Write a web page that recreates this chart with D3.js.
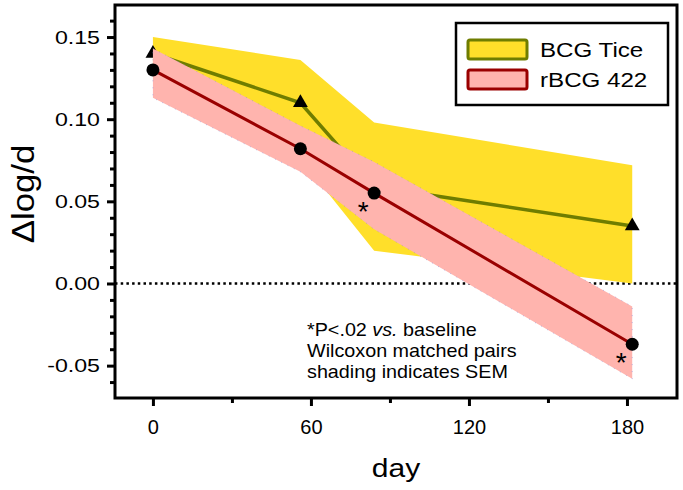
<!DOCTYPE html>
<html>
<head>
<meta charset="utf-8">
<script src="https://cdn.jsdelivr.net/npm/d3@7"></script>
<style>
  body { margin: 0; background: #fff; }
  svg { font-family: "Liberation Sans", Arial, sans-serif; }
</style>
</head>
<body>
<div id="chart"></div>
<script>
const days = [0, 56, 84, 182];

const ticeMean = [0.140, 0.110, 0.059, 0.035];
const ticeUpper = [0.150, 0.136, 0.098, 0.072];
const ticeLower = [0.130, 0.076, 0.020, 0.000];

const rbcgMean = [0.130, 0.082, 0.055, -0.037];
const rbcgUpper = [0.143, 0.096, 0.074, -0.014];
const rbcgLower = [0.113, 0.068, 0.033, -0.058];

const sigDays = [84, 182];

const xTicks = [0, 60, 120, 180];
const xMinor = [30, 90, 150];
const yTicks = [-0.05, 0.00, 0.05, 0.10, 0.15];
const yMinor = [-0.06, -0.04, -0.03, -0.02, -0.01, 0.01, 0.02, 0.03, 0.04,
  0.06, 0.07, 0.08, 0.09, 0.11, 0.12, 0.13, 0.14, 0.16];

const legendItems = ["BCG Tice", "rBCG 422"];
const noteLines = ["Wilcoxon matched pairs", "shading indicates SEM"];

(function () {
  const W = 683, H = 490;
  const left = 115, right = 677, top = 5, bottom = 398;

  const svg = d3.select("#chart").append("svg")
    .attr("width", W)
    .attr("height", H);

  const x = d3.scaleLinear().domain([-14.4, 199]).range([left, right]);
  const y = d3.scaleLinear().domain([-0.0697, 0.1695]).range([bottom, top]);

  const yellow = "#ffdf2a";
  const olive = "#6f7d00";
  const pink = "#ffb4ae";
  const darkRed = "#9a0000";

  const tice = days.map((d, i) => ({ day: d, m: ticeMean[i], lo: ticeLower[i], hi: ticeUpper[i] }));
  const rbcg = days.map((d, i) => ({ day: d, m: rbcgMean[i], lo: rbcgLower[i], hi: rbcgUpper[i] }));

  const band = d3.area().x(d => x(d.day)).y0(d => y(d.lo)).y1(d => y(d.hi));
  const line = d3.line().x(d => x(d.day)).y(d => y(d.m));

  // zero reference
  svg.append("line")
    .attr("x1", left).attr("x2", right)
    .attr("y1", y(0)).attr("y2", y(0))
    .attr("stroke", "#000")
    .attr("stroke-width", 2.5)
    .attr("stroke-dasharray", "2.5,3.2");

  // BCG Tice
  svg.append("path").datum(tice).attr("d", band).attr("fill", yellow);
  svg.append("path").datum(tice).attr("d", line)
    .attr("fill", "none").attr("stroke", olive).attr("stroke-width", 3.5);
  svg.selectAll(".tri").data(tice).join("path")
    .attr("class", "tri")
    .attr("d", d3.symbol(d3.symbolTriangle, 95))
    .attr("transform", d => `translate(${x(d.day)},${y(d.m)})`)
    .attr("fill", "#000");

  // rBCG 422
  svg.append("path").datum(rbcg).attr("d", band)
    .attr("fill", pink)
    .attr("stroke", "#8a8ad8")
    .attr("stroke-opacity", 0.55)
    .attr("stroke-width", 1)
    .attr("stroke-dasharray", "1,6");
  svg.append("path").datum(rbcg).attr("d", line)
    .attr("fill", "none").attr("stroke", darkRed).attr("stroke-width", 3);
  svg.selectAll(".dot").data(rbcg).join("circle")
    .attr("class", "dot")
    .attr("cx", d => x(d.day))
    .attr("cy", d => y(d.m))
    .attr("r", 6.5)
    .attr("fill", "#000");

  svg.selectAll(".sig").data(rbcg.filter(d => sigDays.includes(d.day))).join("text")
    .attr("class", "sig")
    .attr("x", d => x(d.day) - 11)
    .attr("y", d => y(d.m) + 28)
    .attr("text-anchor", "middle")
    .attr("font-size", 28)
    .text("*");

  // axes
  const yAxis = d3.axisLeft(y).tickValues(yTicks).tickSize(8)
    .tickFormat(d => d3.format(".2f")(d).replace("\u2212", "-"));
  const yAxisMinor = d3.axisLeft(y).tickValues(yMinor).tickSize(5).tickFormat("");
  const xAxis = d3.axisBottom(x).tickValues(xTicks).tickSize(8).tickPadding(14)
    .tickFormat(d3.format("d"));
  const xAxisMinor = d3.axisBottom(x).tickValues(xMinor).tickSize(5).tickFormat("");

  const gy = svg.append("g").attr("transform", `translate(${left},0)`).call(yAxis);
  svg.append("g").attr("transform", `translate(${left},0)`).call(yAxisMinor)
    .selectAll("line").attr("stroke-width", 3);
  const gx = svg.append("g").attr("transform", `translate(0,${bottom})`).call(xAxis);
  svg.append("g").attr("transform", `translate(0,${bottom})`).call(xAxisMinor)
    .selectAll("line").attr("stroke-width", 3);

  svg.selectAll(".domain").remove();
  gy.selectAll("line").attr("stroke-width", 3);
  gx.selectAll("line").attr("stroke-width", 3);
  // labels in the source are drawn a little wide
  gy.selectAll("text")
    .attr("font-size", 19).attr("fill", "#000")
    .attr("font-family", "Liberation Sans, Arial, sans-serif")
    .attr("x", -15 / 1.22)
    .attr("transform", "scale(1.22,1)");
  gx.selectAll("text").attr("font-size", 20).attr("fill", "#000")
    .attr("font-family", "Liberation Sans, Arial, sans-serif");

  // frame
  svg.append("rect")
    .attr("x", left).attr("y", top)
    .attr("width", right - left).attr("height", bottom - top)
    .attr("fill", "none").attr("stroke", "#000").attr("stroke-width", 3);

  // axis titles
  svg.append("text")
    .attr("transform", `translate(34,194) rotate(-90) scale(1.12,1)`)
    .attr("text-anchor", "middle")
    .attr("font-size", 31)
    .text("\u0394log/d");

  svg.append("text")
    .attr("transform", `translate(${(left + right) / 2},477) scale(1.2,1)`)
    .attr("text-anchor", "middle")
    .attr("font-size", 25)
    .text("day");

  // note
  const note = svg.append("g").attr("font-size", 19)
    .attr("transform", "translate(307,0) scale(1.04,1)");
  const first = note.append("text").attr("x", 0).attr("y", 336);
  first.append("tspan").text("*P<.02 ");
  first.append("tspan").attr("font-style", "italic").text("vs.");
  first.append("tspan").text(" baseline");
  note.selectAll(".ln").data(noteLines).join("text")
    .attr("class", "ln")
    .attr("x", 0)
    .attr("y", (d, i) => 357 + i * 21)
    .text(d => d);

  // legend
  const lg = svg.append("g");
  lg.append("rect")
    .attr("x", 456).attr("y", 23).attr("width", 212).attr("height", 82)
    .attr("fill", "#fff").attr("stroke", "#000").attr("stroke-width", 2.5);
  const fills = [yellow, pink];
  const strokes = [olive, darkRed];
  legendItems.forEach((name, i) => {
    lg.append("rect")
      .attr("x", 468).attr("y", 40 + i * 30)
      .attr("width", 59).attr("height", 19)
      .attr("rx", 2)
      .attr("fill", fills[i]).attr("stroke", strokes[i]).attr("stroke-width", 3);
    lg.append("text")
      .attr("transform", `translate(540,${57 + i * 30}) scale(1.15,1)`)
      .attr("font-size", 21)
      .text(name);
  });
})();
</script>
</body>
</html>
